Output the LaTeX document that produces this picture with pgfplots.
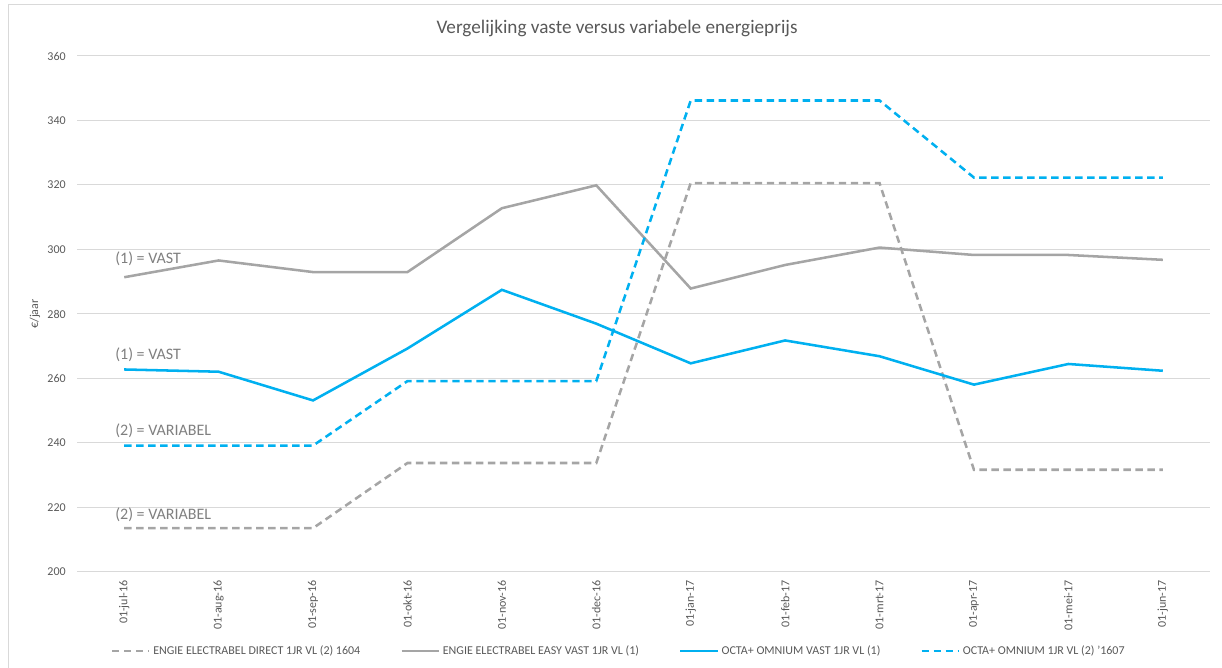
\documentclass[border=0pt]{standalone}
\usepackage{fontspec}
\setmainfont{Carlito}
\usepackage{pgfplots}
\pgfplotsset{compat=1.18}
\definecolor{txt}{HTML}{595959}
\definecolor{ann}{HTML}{7F7F7F}
\definecolor{gridc}{HTML}{D9D9D9}
\definecolor{sgrey}{HTML}{A5A5A5}
\definecolor{sblue}{HTML}{00B0F0}
\begin{document}
\begin{tikzpicture}
\path[use as bounding box] (0pt,0pt) rectangle (916.5pt,501pt);
\draw[gridc, line width=0.75pt] (6pt,-20pt) -- (6pt,497.25pt) -- (940pt,497.25pt);
\node[txt, font=\fontsize{14.4}{16}\selectfont] at (462.75pt,480pt) {Vergelijking vaste versus variabele energieprijs};
\begin{axis}[
  at={(57.75pt,72pt)}, anchor=south west,
  scale only axis, width=849.75pt, height=387pt,
  xmin=-0.5, xmax=11.5, ymin=200, ymax=360,
  ytick={200,220,...,360},
  xtick={0,...,11},
  xticklabels={01-jul-16,01-aug-16,01-sep-16,01-okt-16,01-nov-16,01-dec-16,01-jan-17,01-feb-17,01-mrt-17,01-apr-17,01-mei-17,01-jun-17},
  axis line style={draw=none},
  major tick length=0pt,
  ymajorgrids, grid style={gridc, line width=0.75pt},
  tick label style={txt, font=\fontsize{9}{10}\selectfont},
  /pgf/number format/assume math mode=true,
  yticklabel style={anchor=east, inner sep=0pt, xshift=-8.25pt},
  xticklabel style={rotate=90, anchor=east, inner sep=0pt},
  xticklabel shift=6pt,
  ylabel={€/jaar},
  ylabel style={txt, font=\fontsize{9}{10}\selectfont, at={(axis description cs:-0.0371,0.5)}, anchor=center},
  legend columns=4,
  legend style={draw=none, fill=none, at={(0.4784,-0.153)}, anchor=center, font=\fontsize{9}{10}\selectfont, text=txt, /tikz/every even column/.append style={column sep=28pt}, inner sep=0pt},
  legend image code/.code={\draw[#1] (0pt,0pt) -- (28pt,0pt);},
  clip=false,
]
\addplot[sgrey, line width=1.9pt, dash pattern=on 5.5pt off 3.5pt] coordinates {
(0,213.6) (1,213.6) (2,213.6) (3,233.8) (4,233.8) (5,233.8) (6,320.6) (7,320.6) (8,320.6) (9,231.7) (10,231.7) (11,231.7)};
\addlegendentry{ENGIE ELECTRABEL DIRECT 1JR VL (2) 1604}
\addplot[sgrey, line width=1.9pt] coordinates {
(0,291.4) (1,296.6) (2,293.0) (3,293.0) (4,312.8) (5,319.9) (6,287.9) (7,295.2) (8,300.6) (9,298.3) (10,298.3) (11,296.8)};
\addlegendentry{ENGIE ELECTRABEL EASY VAST 1JR VL (1)}
\addplot[sblue, line width=1.9pt] coordinates {
(0,262.8) (1,262.1) (2,253.2) (3,269.3) (4,287.5) (5,277.0) (6,264.7) (7,271.8) (8,266.9) (9,258.1) (10,264.5) (11,262.4)};
\addlegendentry{OCTA+ OMNIUM VAST 1JR VL (1)}
\addplot[sblue, line width=1.9pt, dash pattern=on 5.5pt off 3.5pt] coordinates {
(0,239.2) (1,239.2) (2,239.2) (3,259.2) (4,259.2) (5,259.2) (6,346.2) (7,346.2) (8,346.2) (9,322.3) (10,322.3) (11,322.3)};
\addlegendentry{OCTA+ OMNIUM 1JR VL (2) '1607}
\node[ann, anchor=west, inner sep=0pt, font=\fontsize{12}{13}\selectfont] at (axis cs:-0.097,297.1) {(1) = VAST};
\node[ann, anchor=west, inner sep=0pt, font=\fontsize{12}{13}\selectfont] at (axis cs:-0.097,267.3) {(1) = VAST};
\node[ann, anchor=west, inner sep=0pt, font=\fontsize{12}{13}\selectfont] at (axis cs:-0.097,243.7) {(2) = VARIABEL};
\node[ann, anchor=west, inner sep=0pt, font=\fontsize{12}{13}\selectfont] at (axis cs:-0.097,217.7) {(2) = VARIABEL};
\end{axis}
\end{tikzpicture}
\end{document}
